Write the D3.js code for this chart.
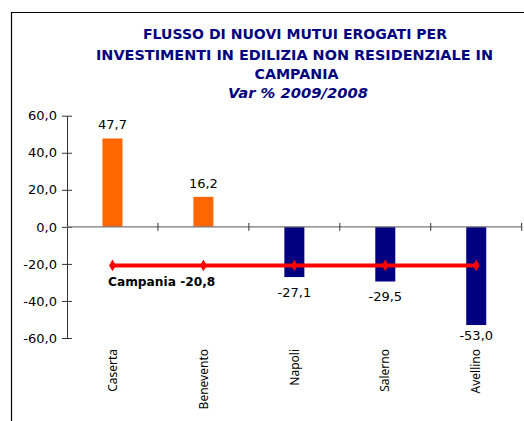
<!DOCTYPE html>
<html><head><meta charset="utf-8">
<script src="https://cdn.jsdelivr.net/npm/d3@7"></script>
<style>body{margin:0;background:#fff}svg{display:block}</style>
</head><body>
<script>
const categories = ["Caserta","Benevento","Napoli","Salerno","Avellino"];
const values = [47.7,16.2,-27.1,-29.5,-53.0];
const campaniaValue = -20.8;
const campaniaLabel = "Campania";
const yTicks = [60,40,20,0,-20,-40,-60];
const titleLines = ["FLUSSO DI NUOVI MUTUI EROGATI PER","INVESTIMENTI IN EDILIZIA NON RESIDENZIALE IN","CAMPANIA"];
const subtitle = "Var % 2009/2008";

const W=524,H=421;
const loc = d3.formatLocale({decimal:",",thousands:".",grouping:[3],currency:["€",""],minus:"-"});
const f1 = loc.format(".1f");

const svg=d3.select("body").append("svg").attr("width",W).attr("height",H);
svg.append("rect").attr("width",W).attr("height",H).attr("fill","#fff");
// frame
svg.append("path").attr("d",`M11.5,${H} L11.5,12.5 L${W},12.5`).attr("fill","none").attr("stroke","#000").attr("stroke-width",1.2);

// title
const titleFont = "'DejaVu Sans', Verdana, sans-serif";
const tl = [{t:titleLines[0],x:295,y:39,len:304},{t:titleLines[1],x:294.5,y:59.5,len:397},{t:titleLines[2],x:296.5,y:79,len:84}];
tl.forEach(d=>{
  svg.append("text").attr("x",d.x).attr("y",d.y).attr("text-anchor","middle")
    .attr("font-family",titleFont).attr("font-weight","bold").attr("font-size",14.5)
    .attr("fill","#000080").attr("textLength",d.len).attr("lengthAdjust","spacingAndGlyphs").text(d.t);
});
svg.append("text").attr("x",298).attr("y",97.5).attr("text-anchor","middle")
  .attr("font-family",titleFont).attr("font-weight","bold").attr("font-style","italic").attr("font-size",14.5)
  .attr("fill","#000080").attr("textLength",140).attr("lengthAdjust","spacingAndGlyphs").text(subtitle);

const x=d3.scaleBand().domain(categories).range([67,521.7]).paddingInner(0.78).paddingOuter(0.39);
const y=d3.scaleLinear().domain([-60,60]).range([338,115.7]);
const font="'DejaVu Sans', Verdana, sans-serif";

// bars
svg.append("g").selectAll("rect").data(values).join("rect")
  .attr("x",(d,i)=>x(categories[i])).attr("width",x.bandwidth())
  .attr("y",d=>y(Math.max(0,d))).attr("height",d=>Math.abs(y(d)-y(0)))
  .attr("fill",d=>d>=0?"#FF6600":"#000080");

// y axis
const yAxis=d3.axisLeft(y).tickValues(yTicks).tickFormat(f1).tickSizeInner(5).tickSizeOuter(0).tickPadding(5);
const gy=svg.append("g").attr("transform","translate(67,0)").call(yAxis);
gy.select(".domain").attr("stroke","#333");
gy.selectAll(".tick line").attr("stroke","#333").attr("x2",5).attr("x1",-5);
gy.selectAll(".tick text").attr("font-family",font).attr("font-size",13).attr("fill","#000").attr("x",-10);

// x axis line at 0 with cross ticks at band boundaries
const step=x.step();
const boundaries=d3.range(categories.length+1).map(i=>67+i*step);
svg.append("line").attr("x1",67).attr("x2",521.7).attr("y1",y(0)).attr("y2",y(0)).attr("stroke","#777").attr("stroke-width",1.2);
svg.append("g").selectAll("line").data(boundaries.slice(1)).join("line")
  .attr("x1",d=>d).attr("x2",d=>d).attr("y1",y(0)-4).attr("y2",y(0)+4).attr("stroke","#333");

// category labels
svg.append("g").selectAll("text").data(categories).join("text")
  .attr("transform",d=>`translate(${x(d)+x.bandwidth()/2},349) rotate(-90)`)
  .attr("text-anchor","end").attr("dy","0.35em")
  .attr("font-family","'Noto Sans', sans-serif").attr("font-size",12).attr("fill","#000").text(d=>d);

// value labels
svg.append("g").selectAll("text").data(values).join("text")
  .attr("x",(d,i)=>x(categories[i])+x.bandwidth()/2)
  .attr("y",d=>d>=0?y(d)-9:Math.min(y(d)+20,340))
  .attr("text-anchor","middle").attr("font-family",font).attr("font-size",13).attr("fill","#000").text(d=>f1(d));

// Campania line
const pts=categories.map(c=>[x(c)+x.bandwidth()/2,y(campaniaValue)]);
svg.append("path").attr("d",d3.line()(pts)).attr("stroke","#FF0000").attr("stroke-width",4).attr("fill","none");
svg.append("g").selectAll("path").data(pts).join("path")
  .attr("transform",d=>`translate(${d[0]},${d[1]})`)
  .attr("d",d3.symbol().type(d3.symbolDiamond).size(40)).attr("fill","#FF0000");
svg.append("text").attr("x",108).attr("y",286).attr("font-family",font).attr("font-weight","bold").attr("font-size",12.2)
  .attr("fill","#000").text(campaniaLabel+" "+f1(campaniaValue));
</script>
</body></html>
